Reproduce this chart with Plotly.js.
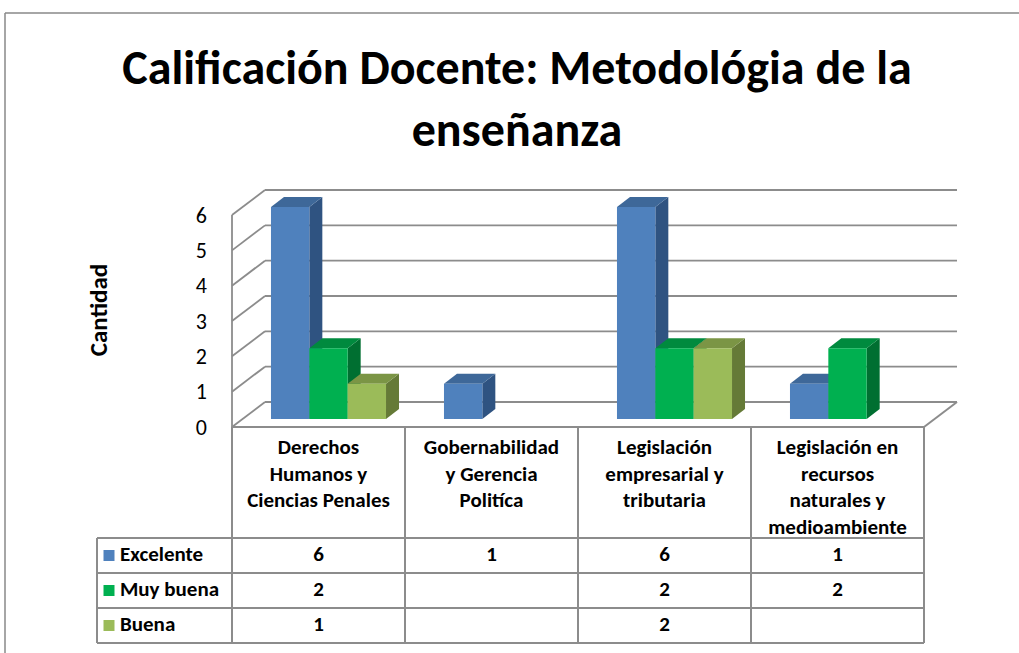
<!DOCTYPE html>
<html><head><meta charset="utf-8">
<script src="https://cdn.plot.ly/plotly-3.0.1.min.js"></script>
<style>html,body{margin:0;padding:0;background:#fff;}#chart{width:1019px;height:653px;}</style>
</head><body><div id="chart"></div>
<script>
// ---------------- DATA ----------------
const categories = [
  ['Derechos', 'Humanos y', 'Ciencias Penales'],
  ['Gobernabilidad', 'y Gerencia', 'Politíca'],
  ['Legislación', 'empresarial y', 'tributaria'],
  ['Legislación en', 'recursos', 'naturales y', 'medioambiente']
];
const seriesNames = ['Excelente', 'Muy buena', 'Buena'];
const excelente = [6, 1, 6, 1];
const muyBuena = [2, null, 2, 2];
const buena = [1, null, 2, null];
const yTicks = [0, 1, 2, 3, 4, 5, 6];
const titleText = 'Calificación Docente: Metodológia de la<br>enseñanza';
const yTitle = 'Cantidad';

// ---------------- STYLE ----------------
const FONT = 'Carlito, Lato, "Open Sans", sans-serif';
const frontColors = ['#4F81BD', '#00B050', '#9BBB59'];
const topColors = ['#3E6899', '#008A3E', '#7B9545'];
const sideColors = ['#2F5381', '#006F31', '#657A37'];
const lineColor = '#8C8C8C';
const TXT = 21;

const W = 1019, H = 653;
const M = {l: 80, r: 40, t: 170, b: 5};
const pw = W - M.l - M.r, ph = H - M.t - M.b;
// front-plane scale (px per category / px per value unit)
const X0 = 318.5, CW = 173, Y0 = 427, VH = 35.33, RH = 35;
const plotBox = {x0: 220, x1: 970, y0: 180, y1: 440};
const tableTop = 420;

// 3D depth offsets in data units
const wallDX = 33 / CW, wallDY = 25 / VH;
const barDX = 10 / CW, barDY = 8 / VH;
const depthDX = 13 / CW, depthDY = 10 / VH;
const bargap = 0.335;

const series = [excelente, muyBuena, buena];
const n = categories.length;
const nS = series.length;
const barW = (1 - bargap) / nS;

// ---------------- SHAPES (3D frame + bar depth faces) ----------------
const shapes = [];
const ln = (x0, y0, x1, y1, xref, yref, w) => ({type: 'line', xref, yref, x0, y0, x1, y1, layer: 'below',
  line: {color: lineColor, width: w || 1.8}});
const yMax = yTicks[yTicks.length - 1];
// back wall gridlines & left wall diagonals
yTicks.forEach(t => {
  shapes.push(ln(-0.5 + wallDX, t + wallDY, n - 0.5 + wallDX, t + wallDY, 'x', 'y'));
  shapes.push(ln(-0.5, t, -0.5 + wallDX, t + wallDY, 'x', 'y'));
});
// front-left vertical edge, floor front edge, floor right edge
shapes.push(ln(-0.5, 0, -0.5, yMax, 'x', 'y'));
shapes.push(ln(-0.5, 0, n - 0.5, 0, 'x', 'y', 2));
shapes.push(ln(n - 0.5, 0, n - 0.5 + wallDX, wallDY, 'x', 'y', 2));

// bar side and top faces, left to right
for (let i = 0; i < n; i++) {
  for (let k = 0; k < nS; k++) {
    const v = series[k][i];
    if (v === null || v === undefined) continue;
    const xl = i + barDX - (1 - bargap) / 2 + k * barW;
    const xr = xl + barW;
    const yb = barDY, yt = barDY + v;
    const side = `M ${xr},${yb} L ${xr},${yt} L ${xr + depthDX},${yt + depthDY} L ${xr + depthDX},${yb + depthDY} Z`;
    const top = `M ${xl},${yt} L ${xr},${yt} L ${xr + depthDX},${yt + depthDY} L ${xl + depthDX},${yt + depthDY} Z`;
    shapes.push({type: 'path', xref: 'x', yref: 'y', path: side, fillcolor: sideColors[k], line: {width: 0}, layer: 'below'});
    shapes.push({type: 'path', xref: 'x', yref: 'y', path: top, fillcolor: topColors[k], line: {width: 0}, layer: 'below'});
  }
}

// ---------------- TABLE ----------------
const legendLeft = (97 - X0) / CW;
const headerBottom = (538 - Y0) / RH;
const rowBottoms = series.map((s, r) => headerBottom + r + 1);
const tableBottom = rowBottoms[rowBottoms.length - 1];
// horizontal lines
[headerBottom].concat(rowBottoms).forEach(y => shapes.push(ln(legendLeft, y, n - 0.5, y, 'x2', 'y2', 2)));
// vertical lines
for (let i = 0; i <= n; i++) shapes.push(ln(i - 0.5, 0, i - 0.5, tableBottom, 'x2', 'y2', 2));
shapes.push(ln(legendLeft, headerBottom, legendLeft, tableBottom, 'x2', 'y2', 2));

// outer chart border (top and left)
const pxToPaperX = px => (px - M.l) / pw;
const pxToPaperY = py => (H - M.b - py) / ph;
shapes.push({type: 'line', xref: 'paper', yref: 'paper', x0: pxToPaperX(5), y0: pxToPaperY(13), x1: pxToPaperX(W), y1: pxToPaperY(13), line: {color: '#888', width: 1.5}});
shapes.push({type: 'line', xref: 'paper', yref: 'paper', x0: pxToPaperX(5), y0: pxToPaperY(13), x1: pxToPaperX(5), y1: pxToPaperY(H), line: {color: '#888', width: 1.5}});

// ---------------- TRACES ----------------
const traces = [];
series.forEach((vals, k) => {
  traces.push({
    type: 'bar', name: seriesNames[k], x: vals.map((v, i) => i + barDX), y: vals, base: barDY,
    marker: {color: frontColors[k], line: {width: 0}}, xaxis: 'x', yaxis: 'y', showlegend: false, hoverinfo: 'skip'
  });
});

// header labels
const hx = [], hy = [], ht = [];
categories.forEach((lines, i) => lines.forEach((t, j) => {
  hx.push(i); hy.push((22 + 26.5 * j) / RH); ht.push(t);
}));
traces.push({type: 'scatter', mode: 'text', x: hx, y: hy, text: ht, xaxis: 'x2', yaxis: 'y2',
  textfont: {family: FONT, size: TXT, weight: 700, color: '#000'}, cliponaxis: false, showlegend: false, hoverinfo: 'skip'});

// value cells
const vx = [], vy = [], vt = [];
series.forEach((vals, r) => vals.forEach((v, i) => {
  if (v === null) return;
  vx.push(i); vy.push(headerBottom + r + 0.5); vt.push(String(v));
}));
traces.push({type: 'scatter', mode: 'text', x: vx, y: vy, text: vt, xaxis: 'x2', yaxis: 'y2',
  textfont: {family: FONT, size: TXT, weight: 700, color: '#000'}, cliponaxis: false, showlegend: false, hoverinfo: 'skip'});

// legend keys
traces.push({type: 'scatter', mode: 'markers', x: seriesNames.map(() => (109 - X0) / CW),
  y: seriesNames.map((s, r) => headerBottom + r + 0.5), xaxis: 'x2', yaxis: 'y2',
  marker: {symbol: 'square', size: 11, color: frontColors, line: {width: 0}}, cliponaxis: false, showlegend: false, hoverinfo: 'skip'});
traces.push({type: 'scatter', mode: 'text', x: seriesNames.map(() => (120 - X0) / CW),
  y: seriesNames.map((s, r) => headerBottom + r + 0.5), text: seriesNames, textposition: 'middle right', xaxis: 'x2', yaxis: 'y2',
  textfont: {family: FONT, size: TXT, weight: 700, color: '#000'}, cliponaxis: false, showlegend: false, hoverinfo: 'skip'});

// ---------------- LAYOUT ----------------
const layout = {
  width: W, height: H, margin: M, paper_bgcolor: '#fff', plot_bgcolor: 'rgba(0,0,0,0)',
  showlegend: false, barmode: 'group', bargap: bargap, bargroupgap: 0,
  font: {family: FONT, color: '#000'},
  title: {text: titleText, x: 517 / W, xref: 'container', xanchor: 'center', y: 1 - 84 / H, yref: 'container', yanchor: 'middle',
    font: {family: FONT, size: 48, weight: 700, color: '#000'}},
  xaxis: {domain: [pxToPaperX(plotBox.x0), pxToPaperX(plotBox.x1)], range: [(plotBox.x0 - X0) / CW, (plotBox.x1 - X0) / CW],
    visible: false, fixedrange: true},
  yaxis: {domain: [pxToPaperY(plotBox.y1), pxToPaperY(plotBox.y0)], range: [(Y0 - plotBox.y1) / VH, (Y0 - plotBox.y0) / VH],
    tickvals: yTicks, ticktext: yTicks.map(String), showgrid: false, zeroline: false, showline: false, ticks: '',
    ticklabelstandoff: 12, tickfont: {family: FONT, size: 22, color: '#000'}, fixedrange: true,
    title: {text: yTitle, standoff: 81, font: {family: FONT, size: 25, weight: 700, color: '#000'}}},
  xaxis2: {domain: [0, 1], range: [(M.l - X0) / CW, (W - M.r - X0) / CW], visible: false, anchor: 'y2', fixedrange: true},
  yaxis2: {domain: [0, pxToPaperY(tableTop)], range: [(H - M.b - Y0) / RH, (tableTop - Y0) / RH], visible: false, anchor: 'x2', fixedrange: true},
  shapes: shapes
};

Plotly.newPlot('chart', traces, layout, {displayModeBar: false, staticPlot: true});
</script>
</body></html>
